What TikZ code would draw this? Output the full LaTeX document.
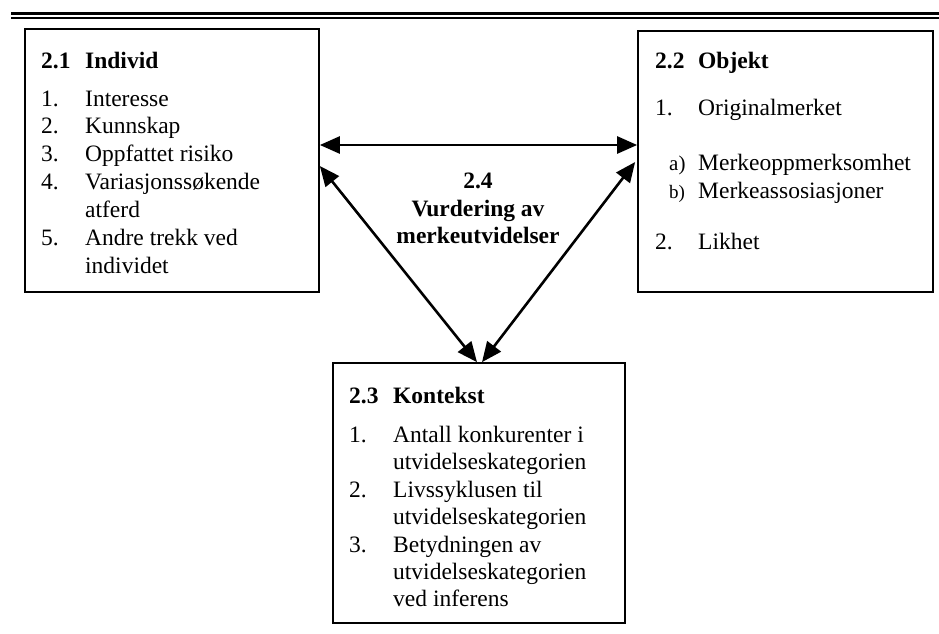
\documentclass[tikz,border=0pt]{standalone}
\usepackage{fontspec}
\setmainfont{Liberation Serif}
\usetikzlibrary{arrows.meta}
\begin{document}
\begin{tikzpicture}[x=1pt,y=-1pt,
  box/.style={draw,line width=1.7pt,inner sep=0pt},
  txt/.style={anchor=base west,inner sep=0pt,font=\fontsize{23.5}{28}\selectfont},
  btxt/.style={txt,font=\fontsize{23.5}{28}\selectfont\bfseries},
  ctxt/.style={anchor=base,inner sep=0pt,font=\fontsize{23.5}{28}\selectfont\bfseries},
  arr/.style={line width=2.6pt,{Triangle[length=20pt,width=17pt]}-{Triangle[length=20pt,width=17pt]}},
  rulea/.style={line width=2.6pt},
  ruleb/.style={line width=1.6pt}]
\useasboundingbox (0,0) rectangle (939,634);
% top double rule
\coordinate (r1a) at (11,13.3); \coordinate (r1b) at (939,13.3);
\coordinate (r2a) at (11,18); \coordinate (r2b) at (939,18);
\draw[rulea] (r1a) -- (r1b);
\draw[ruleb] (r2a) -- (r2b);
% boxes
\node[box,minimum width=294pt,minimum height=263pt] (ind) at (172,160.5) {};
\node[box,minimum width=295pt,minimum height=261pt] (obj) at (785.5,161.5) {};
\node[box,minimum width=292pt,minimum height=260pt] (ctx) at (479,493) {};
% box 2.1
\node[btxt] (i0a) at (41,68) {2.1};
\node[btxt] (i0b) at (85,68) {Individ};
\node[txt] (i1a) at (41,106) {1.};  \node[txt] (i1b) at (85,106) {Interesse};
\node[txt] (i2a) at (41,133) {2.};  \node[txt] (i2b) at (85,133) {Kunnskap};
\node[txt] (i3a) at (41,161) {3.};  \node[txt] (i3b) at (85,161) {Oppfattet risiko};
\node[txt] (i4a) at (41,189) {4.};  \node[txt] (i4b) at (85,189) {Variasjonssøkende};
\node[txt] (i4c) at (85,217) {atferd};
\node[txt] (i5a) at (41,245) {5.};  \node[txt] (i5b) at (85,245) {Andre trekk ved};
\node[txt] (i5c) at (85,273) {individet};
% box 2.2
\node[btxt] (o0a) at (655,68) {2.2};
\node[btxt] (o0b) at (698,68) {Objekt};
\node[txt] (o1a) at (655,115) {1.};  \node[txt] (o1b) at (698,115) {Originalmerket};
\node[txt,font=\fontsize{21}{26}\selectfont] (oaa) at (669,170) {a)};
\node[txt] (oab) at (698,170) {Merkeoppmerksomhet};
\node[txt,font=\fontsize{19}{24}\selectfont] (oba) at (669,198) {b)};
\node[txt] (obb) at (698,198) {Merkeassosiasjoner};
\node[txt] (o2a) at (655,249) {2.};  \node[txt] (o2b) at (698,249) {Likhet};
% box 2.3
\node[btxt] (c0a) at (349,403) {2.3};
\node[btxt] (c0b) at (393,403) {Kontekst};
\node[txt] (c1a) at (349,442) {1.};  \node[txt] (c1b) at (393,442) {Antall konkurenter i};
\node[txt] (c1c) at (393,469) {utvidelseskategorien};
\node[txt] (c2a) at (349,497) {2.};  \node[txt] (c2b) at (393,497) {Livssyklusen til};
\node[txt] (c2c) at (393,524) {utvidelseskategorien};
\node[txt] (c3a) at (349,552) {3.};  \node[txt] (c3b) at (393,552) {Betydningen av};
\node[txt] (c3c) at (393,579) {utvidelseskategorien};
\node[txt] (c3d) at (393,606) {ved inferens};
% centre
\node[ctxt] (m1) at (478,188) {2.4};
\node[ctxt] (m2) at (478,216) {Vurdering av};
\node[ctxt] (m3) at (478,243) {merkeutvidelser};
% arrows
\draw[arr] (ind.east |- 0,145) -- (obj.west |- 0,145);
\draw[arr] (ind.east |- 0,166) -- ([xshift=-2pt]ctx.north);
\draw[arr] ([xshift=-2pt]obj.west |- 0,162) -- ([xshift=3pt]ctx.north);
\end{tikzpicture}
\end{document}
